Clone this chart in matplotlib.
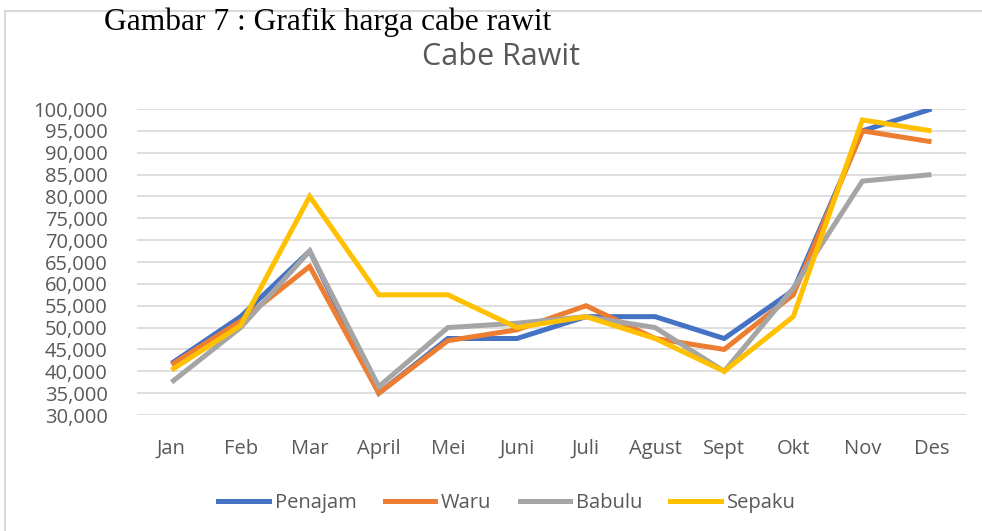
import matplotlib
matplotlib.use('Agg')
from matplotlib import pyplot as plt
from matplotlib.lines import Line2D
from matplotlib.ticker import FuncFormatter, MultipleLocator

months = ['Jan', 'Feb', 'Mar', 'April', 'Mei', 'Juni', 'Juli', 'Agust', 'Sept', 'Okt', 'Nov', 'Des']
penajam = [41800, 52500, 67500, 35000, 47500, 47500, 52500, 52500, 47500, 58500, 95000, 100000]
waru = [41500, 51500, 64000, 35000, 47000, 49500, 55000, 47500, 45000, 57500, 95000, 92500]
babulu = [37500, 50000, 67500, 36500, 50000, 51000, 52500, 50000, 40000, 59000, 83500, 85000]
sepaku = [40300, 50500, 80000, 57500, 57500, 50000, 52500, 47500, 40000, 52500, 97500, 95000]

series = [('Penajam', penajam, '#4472C4'),
          ('Waru', waru, '#ED7D31'),
          ('Babulu', babulu, '#A5A5A5'),
          ('Sepaku', sepaku, '#FFC000')]

text_grey = '#595959'
grid_grey = '#D9D9D9'
sans = 'Open Sans'

fig = plt.figure(figsize=(9.82, 5.31), dpi=100)

# frame of the pasted chart (only top and left visible)
fig.add_artist(Line2D([5 / 982, 1.0], [1 - 11 / 531] * 2, color=grid_grey, lw=1.5))
fig.add_artist(Line2D([5 / 982] * 2, [0, 1 - 11 / 531], color=grid_grey, lw=1.5))

ax = fig.add_axes([137 / 982, 1 - 415 / 531, (966 - 137) / 982, (415 - 109) / 531])

x = list(range(len(months)))
for name, vals, color in series:
    ax.plot(x, vals, color=color, lw=3.6, label=name, solid_joinstyle='miter', solid_capstyle='butt')

ax.set_xlim(-0.5, len(months) - 0.5)
ax.set_ylim(30000, 100000)
ax.yaxis.set_major_locator(MultipleLocator(5000))
ax.yaxis.set_major_formatter(FuncFormatter(lambda v, p: f'{int(v):,}'))
ax.set_xticks(x)
ax.set_xticklabels(months)

ax.grid(axis='y', color=grid_grey, lw=1.2)
ax.set_axisbelow(True)
for s in ax.spines.values():
    s.set_visible(False)
ax.tick_params(axis='both', length=0, labelcolor=text_grey, labelsize=14.5)
ax.tick_params(axis='y', pad=21)
ax.tick_params(axis='x', pad=17)
for lbl in ax.get_xticklabels() + ax.get_yticklabels():
    lbl.set_fontfamily(sans)

fig.text(104 / 982, 1 - 22 / 531, 'Gambar 7 : Grafik harga cabe rawit', family='Liberation Serif',
         fontsize=22.7, color='black', ha='left', va='center')
fig.text(501 / 982, 1 - 57 / 531, 'Cabe Rawit', family=sans, fontsize=22,
         color=text_grey, ha='center', va='center')

handles = [Line2D([], [], color=c, lw=3.6) for _, _, c in series]
leg = fig.legend(handles, [n for n, _, _ in series], loc='center', bbox_to_anchor=(507 / 982, 1 - 503 / 531),
                 ncol=4, frameon=False, handlelength=2.5, handletextpad=0.3, columnspacing=1.4,
                 prop={'family': sans, 'size': 14.5})
for t in leg.get_texts():
    t.set_color(text_grey)

fig.savefig('out.png', dpi=100)
